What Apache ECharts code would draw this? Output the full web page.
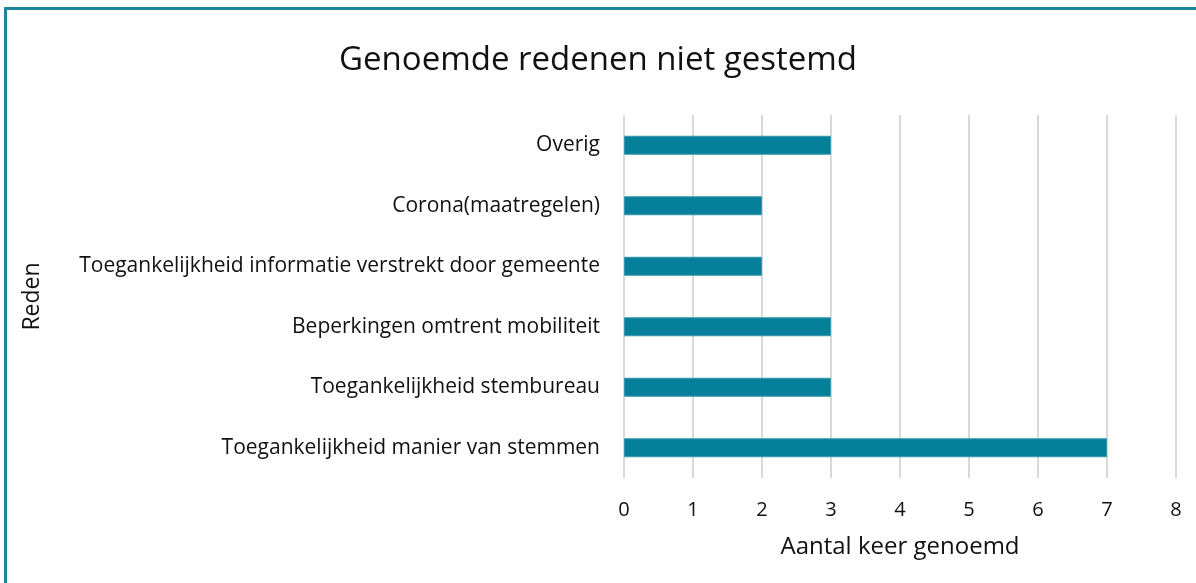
<!DOCTYPE html>
<html>
<head>
<meta charset="utf-8">
<script src="https://cdn.jsdelivr.net/npm/echarts@6/dist/echarts.min.js"></script>
<style>
  html, body { margin: 0; padding: 0; background: #fff; }
  #frame { position: absolute; left: 4px; top: 7px; width: 1192px; height: 576px;
           border-top: 3px solid #1f8497; border-left: 3px solid #1f8497; box-sizing: border-box; }
  #chart { position: absolute; left: 0; top: 0; width: 1196px; height: 583px; }
</style>
</head>
<body>
<div id="frame"></div>
<div id="chart"></div>
<script>
// redenen, van onder naar boven
var redenen = [
  'Toegankelijkheid manier van stemmen',
  'Toegankelijkheid stembureau',
  'Beperkingen omtrent mobiliteit',
  'Toegankelijkheid informatie verstrekt door gemeente',
  'Corona(maatregelen)',
  'Overig'
]
var aantal = [7, 3, 3, 2, 2, 3]
var ticks = [0, 1, 2, 3, 4, 5, 6, 7, 8]

var font = '"Open Sans", sans-serif'
var chart = echarts.init(document.getElementById('chart'))
var option = {
  animation: false,
  title: {
    text: 'Genoemde redenen niet gestemd',
    left: 'center',
    top: 39,
    textStyle: { fontFamily: font, fontSize: 33, fontWeight: 'normal', color: '#111' }
  },
  grid: { left: 624, right: 20, top: 115, bottom: 105, containLabel: false },
  xAxis: {
    type: 'value',
    min: ticks[0],
    max: ticks[ticks.length - 1],
    interval: 1,
    name: 'Aantal keer genoemd',
    nameLocation: 'middle',
    nameGap: 57,
    nameTextStyle: { fontFamily: font, fontSize: 24, color: '#111' },
    axisLine: { show: false },
    axisTick: { show: false },
    axisLabel: { fontFamily: font, fontSize: 20, color: '#111', margin: 22 },
    splitLine: { show: true, lineStyle: { color: '#d9d9d9', width: 2 } }
  },
  yAxis: {
    type: 'category',
    data: redenen,
    name: 'Reden',
    nameLocation: 'middle',
    nameGap: 580,
    nameRotate: 90,
    nameTextStyle: { fontFamily: font, fontSize: 23, color: '#111' },
    axisLine: { show: false },
    axisTick: { show: false },
    axisLabel: { fontFamily: font, fontSize: 21, color: '#111', margin: 24 }
  },
  series: [{
    type: 'bar',
    data: aantal,
    barWidth: 19,
    itemStyle: { color: '#067f9b', borderColor: '#3a98ad', borderWidth: 1 }
  }]
}
option && chart.setOption(option)
</script>
</body>
</html>
